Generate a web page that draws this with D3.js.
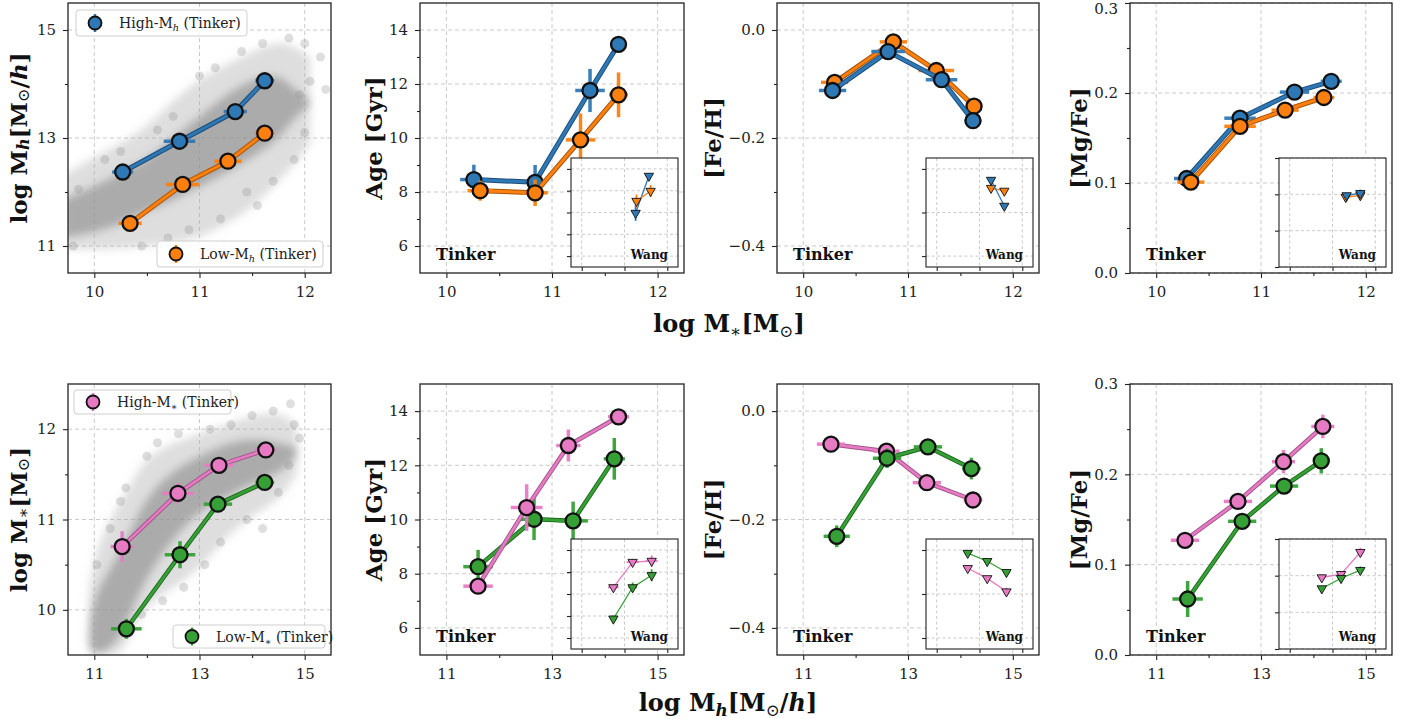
<!DOCTYPE html>
<html><head><meta charset="utf-8">
<script src="https://cdn.jsdelivr.net/npm/d3@7"></script>
<style>
body{margin:0;background:#fff;}
svg{display:block;font-family:'DejaVu Serif',serif;}
</style></head><body>
<svg id="fig" width="1422" height="719"></svg>
<script>
// ---------------- DATA ----------------
// rows: [x, y, xerr, yerr]
// Top row: binned in stellar mass (x = log M*)
const topMh_high   = [[10.27,12.37,0.10,0.06],[10.81,12.94,0.15,0.06],[11.34,13.49,0.11,0.06],[11.62,14.06,0.09,0.06]];
const topMh_low    = [[10.34,11.42,0.11,0.05],[10.84,12.14,0.16,0.05],[11.27,12.57,0.13,0.05],[11.62,13.09,0.09,0.06]];
const topAge_high  = [[10.26,8.46,0.13,0.55],[10.84,8.36,0.06,0.64],[11.36,11.76,0.14,0.80],[11.63,13.47,0.08,0.10]];
const topAge_low   = [[10.32,8.05,0.12,0.37],[10.84,7.97,0.12,0.49],[11.27,9.93,0.14,0.98],[11.63,11.60,0.09,0.83]];
const topFeH_high  = [[10.28,-0.112,0.13,0.010],[10.81,-0.040,0.16,0.006],[11.32,-0.092,0.15,0.008],[11.62,-0.168,0.08,0.008]];
const topFeH_low   = [[10.30,-0.097,0.13,0.008],[10.86,-0.022,0.13,0.006],[11.27,-0.075,0.17,0.008],[11.63,-0.141,0.08,0.008]];
const topMgFe_high = [[10.29,0.105,0.12,0.006],[10.80,0.172,0.15,0.005],[11.32,0.201,0.14,0.005],[11.67,0.213,0.10,0.005]];
const topMgFe_low  = [[10.33,0.101,0.13,0.009],[10.80,0.163,0.15,0.007],[11.23,0.181,0.13,0.005],[11.60,0.195,0.10,0.009]];
// Bottom row: binned in halo mass (x = log Mh)
const botMs_high   = [[11.53,10.70,0.22,0.17],[12.59,11.29,0.30,0.11],[13.37,11.60,0.27,0.05],[14.26,11.77,0.20,0.04]];
const botMs_low    = [[11.61,9.79,0.29,0.11],[12.63,10.61,0.29,0.15],[13.35,11.17,0.27,0.06],[14.24,11.41,0.18,0.05]];
const botAge_high  = [[11.60,7.54,0.28,0.20],[12.52,10.44,0.30,0.86],[13.31,12.73,0.23,0.59],[14.26,13.79,0.20,0.15]];
const botAge_low   = [[11.60,8.26,0.28,0.62],[12.66,10.01,0.27,0.77],[13.40,9.95,0.28,0.71],[14.18,12.24,0.20,0.77]];
const botFeH_high  = [[11.53,-0.061,0.27,0.005],[12.59,-0.074,0.25,0.006],[13.36,-0.132,0.27,0.007],[14.24,-0.164,0.18,0.015]];
const botFeH_low   = [[11.64,-0.231,0.25,0.020],[12.60,-0.087,0.27,0.018],[13.38,-0.066,0.27,0.008],[14.21,-0.106,0.18,0.020]];
const botMgFe_high = [[11.55,0.127,0.27,0.005],[12.56,0.170,0.27,0.006],[13.43,0.214,0.22,0.013],[14.18,0.253,0.22,0.013]];
const botMgFe_low  = [[11.60,0.062,0.29,0.020],[12.64,0.148,0.27,0.006],[13.44,0.187,0.27,0.005],[14.15,0.215,0.16,0.014]];
// Wang insets: [x, y, xerr, yerr]
const wTopAge_high  = [[11.26,9.95,0.05,0.72],[11.57,13.35,0.05,0.20]];
const wTopAge_low   = [[11.28,11.05,0.07,0.60],[11.61,11.97,0.05,0.55]];
const wTopFeH_high  = [[11.27,-0.051,0.04,0.010],[11.58,-0.170,0.04,0.010]];
const wTopFeH_low   = [[11.27,-0.088,0.04,0.008],[11.58,-0.101,0.04,0.006]];
const wTopMgFe_high = [[11.33,0.197,0.04,0.006],[11.65,0.203,0.04,0.010]];
const wTopMgFe_low  = [[11.31,0.192,0.04,0.008],[11.65,0.197,0.04,0.012]];
const wBotAge_high  = [[12.48,10.6,0.25,0.30],[13.38,12.9,0.28,0.30],[14.27,13.0,0.28,0.50]];
const wBotAge_low   = [[12.48,7.75,0.15,0.30],[13.38,10.6,0.20,0.45],[14.27,11.7,0.15,0.55]];
const wBotFeH_high  = [[12.45,-0.083,0.15,0.006],[13.36,-0.129,0.15,0.006],[14.26,-0.189,0.15,0.018]];
const wBotFeH_low   = [[12.45,-0.014,0.15,0.005],[13.36,-0.051,0.15,0.006],[14.26,-0.101,0.15,0.008]];
const wBotMgFe_high = [[12.50,0.195,0.15,0.005],[13.40,0.204,0.15,0.006],[14.30,0.264,0.15,0.012]];
const wBotMgFe_low  = [[12.50,0.165,0.15,0.004],[13.40,0.193,0.15,0.005],[14.30,0.215,0.15,0.010]];
// Background galaxy cloud envelopes: [x, outerLo, coreLo, coreHi, outerHi]
const topCloud = [[9.70,10.95,11.15,11.85,12.3],[10.0,10.95,11.25,12.1,12.65],[10.25,10.95,11.4,12.35,12.9],
  [10.5,11.0,11.65,12.6,13.2],[10.75,11.05,11.85,13.0,13.7],[11.0,11.15,12.1,13.4,14.1],[11.25,11.4,12.35,13.8,14.35],
  [11.5,11.7,12.65,14.1,14.6],[11.75,12.2,12.95,14.2,14.8],[11.9,12.5,13.4,13.9,14.7],[12.05,12.9,13.6,13.7,14.5]];
const topDots = [[12.15,14.5],[12.05,14.05],[12.0,14.75],[11.85,14.85],[11.4,14.6],[11.6,14.75],[9.85,12.05],[10.1,12.6],
  [10.25,12.75],[10.6,13.15],[10.75,13.4],[11.0,14.15],[11.15,14.3],[11.45,12.0],[11.55,11.75],[11.7,12.2],[11.9,12.6],
  [12.0,13.1],[10.9,11.3],[10.7,11.15],[10.45,11.0],[11.95,13.8],[11.2,11.5],[12.2,13.9],[9.8,11.0]];
const botCloud = [[10.9,9.5,9.6,9.8,10.2],[11.0,9.5,9.5,10.15,10.6],[11.25,9.5,9.55,10.4,10.95],[11.5,9.5,9.7,10.65,11.2],
  [11.75,9.8,10.05,10.95,11.45],[12.0,10.05,10.37,11.25,11.7],[12.5,10.25,10.8,11.55,11.85],[13.0,10.45,11.1,11.7,11.95],
  [13.5,10.8,11.25,11.84,12.05],[14.0,11.05,11.4,11.9,12.15],[14.5,11.2,11.5,11.85,12.2],[14.85,11.5,11.7,11.8,12.05]];
const botDots = [[11.05,10.5],[11.3,10.9],[11.5,11.2],[11.6,11.35],[12.0,11.7],[12.2,11.85],[12.6,11.95],[13.2,12.0],
  [13.6,12.05],[14.0,12.15],[14.4,12.2],[14.73,12.28],[14.8,12.05],[14.9,11.9],[14.7,11.6],[14.5,11.3],[13.9,11.0],
  [13.4,10.75],[13.1,10.5],[12.7,10.25],[12.3,10.1],[11.9,9.95],[14.2,10.9]];
// Axis ticks
const xTicksTop = [10, 11, 12], xMinorTop = [10.5, 11.5];
const xTicksBot = [11, 13, 15], xMinorBot = [12, 14];
const yTicksMh = [11, 13, 15], yMinorMh = [12, 14];
const yTicksMs = [10, 11, 12], yMinorMs = [10.5, 11.5];
const yTicksAge = [6, 8, 10, 12, 14], yMinorAge = [7, 9, 11, 13];
const yTicksFeH = [-0.4, -0.2, 0.0], yMinorFeH = [-0.3, -0.1];
const yTicksMgFe = [0.0, 0.1, 0.2, 0.3], yMinorMgFe = [0.05, 0.15, 0.25];

// ---------------- STYLE / LAYOUT ----------------
const COLORS = {blue:'#2f78b6', orange:'#fb800f', pink:'#e67bc4', green:'#36a036'};
const DARK   = {blue:'#1d4f7a', orange:'#a9550a', pink:'#a1558a', green:'#1f6b1f'};
const cols = [[68,331],[420,684],[777,1039],[1130,1392]];
const rows = [[3,273],[384,655]];
const svg = d3.select('#fig');
const defs = svg.append('defs');
defs.append('filter').attr('id','blur').attr('x','-20%').attr('y','-20%').attr('width','140%').attr('height','140%')
  .append('feGaussianBlur').attr('stdDeviation',4);

function rich(sel, parts, size) {
  let cur = 0;
  parts.forEach(p => {
    const s = p.sub ? size*0.22 : 0;
    const ts = sel.append('tspan').text(p.t);
    if (s - cur !== 0) ts.attr('dy', s - cur);
    cur = s;
    if (p.sub) ts.attr('font-size', size*0.7);
    if (p.it) ts.attr('font-style','italic');
    if (p.nb) ts.attr('font-weight','normal');
  });
}
const mhLabel = [{t:'log M'},{t:'h',sub:1,it:1},{t:'[M'},{t:'⊙',sub:1,nb:1},{t:'/'},{t:'h',it:1},{t:']'}];
const msLabel = [{t:'log M'},{t:'∗',sub:1,nb:1},{t:'[M'},{t:'⊙',sub:1,nb:1},{t:']'}];
const fmtInt = d3.format('d'), fmt1 = d => d3.format('.1f')(d);

const panels = [
 {r:0,c:0,xd:[9.75,12.25],yd:[10.5,15.5],xt:xTicksTop,xm:xMinorTop,yt:yTicksMh,ym:yMinorMh,yf:fmtInt,xf:fmtInt,
  s:[[topMh_high,'blue'],[topMh_low,'orange']],cloud:topCloud,dots:topDots,ylab:mhLabel,lw:1},
 {r:0,c:1,xd:[9.75,12.25],yd:[5,15],xt:xTicksTop,xm:xMinorTop,yt:yTicksAge,ym:yMinorAge,yf:fmtInt,xf:fmtInt,
  s:[[topAge_high,'blue'],[topAge_low,'orange']],w:[[wTopAge_high,'blue'],[wTopAge_low,'orange']],ylab:[{t:'Age [Gyr]'}]},
 {r:0,c:2,xd:[9.75,12.25],yd:[-0.45,0.05],xt:xTicksTop,xm:xMinorTop,yt:yTicksFeH,ym:yMinorFeH,yf:fmt1,xf:fmtInt,
  s:[[topFeH_low,'orange'],[topFeH_high,'blue']],w:[[wTopFeH_low,'orange'],[wTopFeH_high,'blue']],ylab:[{t:'[Fe/H]'}]},
 {r:0,c:3,xd:[9.75,12.25],yd:[0,0.3],xt:xTicksTop,xm:xMinorTop,yt:yTicksMgFe,ym:yMinorMgFe,yf:fmt1,xf:fmtInt,
  s:[[topMgFe_high,'blue'],[topMgFe_low,'orange']],w:[[wTopMgFe_low,'orange'],[wTopMgFe_high,'blue']],ylab:[{t:'[Mg/Fe]'}]},
 {r:1,c:0,xd:[10.5,15.5],yd:[9.5,12.5],xt:xTicksBot,xm:xMinorBot,yt:yTicksMs,ym:yMinorMs,yf:fmtInt,xf:fmtInt,
  s:[[botMs_high,'pink'],[botMs_low,'green']],cloud:botCloud,dots:botDots,ylab:msLabel,lw:1},
 {r:1,c:1,xd:[10.5,15.5],yd:[5,15],xt:xTicksBot,xm:xMinorBot,yt:yTicksAge,ym:yMinorAge,yf:fmtInt,xf:fmtInt,
  s:[[botAge_low,'green'],[botAge_high,'pink']],w:[[wBotAge_high,'pink'],[wBotAge_low,'green']],ylab:[{t:'Age [Gyr]'}]},
 {r:1,c:2,xd:[10.5,15.5],yd:[-0.45,0.05],xt:xTicksBot,xm:xMinorBot,yt:yTicksFeH,ym:yMinorFeH,yf:fmt1,xf:fmtInt,
  s:[[botFeH_high,'pink'],[botFeH_low,'green']],w:[[wBotFeH_high,'pink'],[wBotFeH_low,'green']],ylab:[{t:'[Fe/H]'}]},
 {r:1,c:3,xd:[10.5,15.5],yd:[0,0.3],xt:xTicksBot,xm:xMinorBot,yt:yTicksMgFe,ym:yMinorMgFe,yf:fmt1,xf:fmtInt,
  s:[[botMgFe_high,'pink'],[botMgFe_low,'green']],w:[[wBotMgFe_high,'pink'],[wBotMgFe_low,'green']],ylab:[{t:'[Mg/Fe]'}]}
];
const ylabX = [18, 373, 712, 1078];

function styleAxis(a, size) {
  a.select('.domain').remove();
  a.attr('font-family','DejaVu Serif').attr('font-size', size||15);
  a.selectAll('line').attr('stroke','#222').attr('stroke-width',1.1);
  a.selectAll('text').attr('fill','#222');
  return a;
}
function gridLines(g, x, y, xt, yt, l, r, t, b, dash) {
  const gg = g.append('g');
  gg.selectAll(null).data(xt).enter().append('line').attr('x1',d=>x(d)).attr('x2',d=>x(d)).attr('y1',t).attr('y2',b);
  gg.selectAll(null).data(yt).enter().append('line').attr('y1',d=>y(d)).attr('y2',d=>y(d)).attr('x1',l).attr('x2',r);
  gg.selectAll('line').attr('stroke','#c4c4c4').attr('stroke-width',0.9).attr('stroke-dasharray',dash||'4,3');
}
function drawSeries(g, data, key, x, y, big) {
  const col = COLORS[key], dk = DARK[key];
  const line = d3.line().x(d=>x(d[0])).y(d=>y(d[1]));
  g.append('path').attr('d',line(data)).attr('fill','none').attr('stroke',dk).attr('stroke-width',big?5:4.5).attr('stroke-linejoin','round');
  g.append('path').attr('d',line(data)).attr('fill','none').attr('stroke',col).attr('stroke-width',big?3:2.6).attr('stroke-linejoin','round');
  const eb = g.append('g').attr('stroke',col).attr('stroke-width',3.5).attr('stroke-opacity',0.95);
  eb.selectAll(null).data(data).enter().append('line')
    .attr('x1',d=>x(d[0]-d[2])).attr('x2',d=>x(d[0]+d[2])).attr('y1',d=>y(d[1])).attr('y2',d=>y(d[1]));
  eb.selectAll(null).data(data).enter().append('line')
    .attr('x1',d=>x(d[0])).attr('x2',d=>x(d[0])).attr('y1',d=>y(d[1]-d[3])).attr('y2',d=>y(d[1]+d[3]));
  g.selectAll(null).data(data).enter().append('circle')
    .attr('cx',d=>x(d[0])).attr('cy',d=>y(d[1])).attr('r',7.5)
    .attr('fill',col).attr('stroke','#111').attr('stroke-width',2.3);
}
function drawWang(g, data, key, x, y) {
  const col = COLORS[key];
  const line = d3.line().x(d=>x(d[0])).y(d=>y(d[1]));
  g.append('path').attr('d',line(data)).attr('fill','none').attr('stroke',col).attr('stroke-width',1.3);
  const eb = g.append('g').attr('stroke',col).attr('stroke-width',1.8);
  eb.selectAll(null).data(data).enter().append('line')
    .attr('x1',d=>x(d[0]-d[2])).attr('x2',d=>x(d[0]+d[2])).attr('y1',d=>y(d[1])).attr('y2',d=>y(d[1]));
  eb.selectAll(null).data(data).enter().append('line')
    .attr('x1',d=>x(d[0])).attr('x2',d=>x(d[0])).attr('y1',d=>y(d[1]-d[3])).attr('y2',d=>y(d[1]+d[3]));
  const tri = d3.symbol().type(d3.symbolTriangle).size(38);
  g.selectAll(null).data(data).enter().append('path').attr('d',tri)
    .attr('transform',d=>`translate(${x(d[0])},${y(d[1])}) rotate(180)`)
    .attr('fill',col).attr('stroke','#111').attr('stroke-width',0.9);
}
function legendBox(g, bx, by, bw, bh, key, parts) {
  g.append('rect').attr('x',bx).attr('y',by).attr('width',bw).attr('height',bh).attr('rx',3)
    .attr('fill','#fff').attr('fill-opacity',0.85).attr('stroke','#cfcfcf').attr('stroke-width',1);
  const mx = bx+19, my = by+bh/2;
  g.append('line').attr('x1',mx).attr('x2',mx).attr('y1',my-9).attr('y2',my+9).attr('stroke',COLORS[key]).attr('stroke-width',2.5);
  g.append('circle').attr('cx',mx).attr('cy',my).attr('r',6.5).attr('fill',COLORS[key]).attr('stroke','#111').attr('stroke-width',1.8);
  const t = g.append('text').attr('x',bx+43).attr('y',my+5).attr('font-size',14).attr('fill','#222');
  rich(t, parts, 14);
}

panels.forEach((p, i) => {
  const [l, r] = cols[p.c], [t, b] = rows[p.r];
  const x = d3.scaleLinear().domain(p.xd).range([l, r]);
  const y = d3.scaleLinear().domain(p.yd).range([b, t]);
  const g = svg.append('g');
  const cid = 'clip'+i;
  defs.append('clipPath').attr('id',cid).append('rect').attr('x',l).attr('y',t).attr('width',r-l).attr('height',b-t);
  gridLines(g, x, y, p.xt, p.yt, l, r, t, b);
  if (p.cloud) {
    const cg = g.append('g').attr('clip-path',`url(#${cid})`);
    const cb = cg.append('g').attr('filter','url(#blur)');
    cb.append('path').attr('d', d3.area().curve(d3.curveBasis).x(d=>x(d[0])).y0(d=>y(d[1])).y1(d=>y(d[4]))(p.cloud))
      .attr('fill','#a8a8a8').attr('fill-opacity',0.38);
    cb.append('path').attr('d', d3.area().curve(d3.curveBasis).x(d=>x(d[0])).y0(d=>y(d[2])).y1(d=>y(d[3]))(p.cloud))
      .attr('fill','#8a8a8a').attr('fill-opacity',0.6);
    cg.selectAll(null).data(p.dots).enter().append('circle').attr('cx',d=>x(d[0])).attr('cy',d=>y(d[1])).attr('r',4.5)
      .attr('fill','#8c8c8c').attr('fill-opacity',0.28);
  }
  // axes
  styleAxis(g.append('g').attr('transform',`translate(0,${b})`)
    .call(d3.axisBottom(x).tickValues(p.xt).tickSize(5).tickPadding(8).tickFormat(p.xf)));
  styleAxis(g.append('g').attr('transform',`translate(0,${b})`)
    .call(d3.axisBottom(x).tickValues(p.xm).tickSize(3).tickFormat('')));
  const ya = styleAxis(g.append('g').attr('transform',`translate(${l},0)`)
    .call(d3.axisLeft(y).tickValues(p.yt).tickSize(5).tickPadding(7).tickFormat(p.yf)));
  // keep a label sitting on the very top edge inside the picture
  ya.selectAll('.tick text').filter(d => y(d) < 9).attr('y', 9 - y(d3.max(p.yt)));
  styleAxis(g.append('g').attr('transform',`translate(${l},0)`)
    .call(d3.axisLeft(y).tickValues(p.ym).tickSize(3).tickFormat('')));
  // series
  const sg = g.append('g');
  p.s.forEach(([data, key]) => drawSeries(sg, data, key, x, y, p.r===0));
  // inset
  if (p.w) {
    const ix0 = r-113, ix1 = r-6, iy0 = t+155, iy1 = b-6;
    const ig = g.append('g');
    ig.append('rect').attr('x',ix0).attr('y',iy0).attr('width',ix1-ix0).attr('height',iy1-iy0).attr('fill','#fff');
    const xi = d3.scaleLinear().domain(p.xd).range([ix0, ix1]);
    const yi = d3.scaleLinear().domain(p.yd).range([iy1, iy0]);
    gridLines(ig, xi, yi, p.xt, p.yt, ix0, ix1, iy0, iy1, '3,2.5');
    styleAxis(ig.append('g').attr('transform',`translate(0,${iy1})`).call(d3.axisBottom(xi).tickValues(p.xt).tickSize(4).tickFormat('')));
    styleAxis(ig.append('g').attr('transform',`translate(${ix0},0)`).call(d3.axisLeft(yi).tickValues(p.yt).tickSize(4).tickFormat('')));
    p.w.forEach(([data, key]) => drawWang(ig, data, key, xi, yi));
    ig.append('rect').attr('x',ix0).attr('y',iy0).attr('width',ix1-ix0).attr('height',iy1-iy0)
      .attr('fill','none').attr('stroke','#222').attr('stroke-width',1.1);
    ig.append('text').attr('x',ix1-10).attr('y',iy1-8).attr('text-anchor','end').attr('font-weight','bold')
      .attr('font-size',12).attr('fill','#111').text('Wang');
    g.append('text').attr('x',l+16).attr('y',b-13).attr('font-weight','bold').attr('font-size',16)
      .attr('fill','#111').text('Tinker');
  }
  // spines
  g.append('rect').attr('x',l).attr('y',t).attr('width',r-l).attr('height',b-t)
    .attr('fill','none').attr('stroke','#222').attr('stroke-width',1.3);
  // y label
  const yl = svg.append('text').attr('transform',`translate(${ylabX[p.c]},${(t+b)/2}) rotate(-90)`)
    .attr('text-anchor','middle').attr('dominant-baseline','central').attr('font-weight','bold')
    .attr('font-size',23).attr('fill','#111');
  rich(yl, p.ylab, 23);
});

// legends
const lg = svg.append('g');
legendBox(lg, 76, 10, 171, 26, 'blue', [{t:'High-M'},{t:'h',sub:1,it:1},{t:' (Tinker)'}]);
legendBox(lg, 157, 241, 166, 26, 'orange', [{t:'Low-M'},{t:'h',sub:1,it:1},{t:' (Tinker)'}]);
legendBox(lg, 74, 390, 157, 24, 'pink', [{t:'High-M'},{t:'∗',sub:1},{t:' (Tinker)'}]);
legendBox(lg, 173, 625, 152, 23, 'green', [{t:'Low-M'},{t:'∗',sub:1},{t:' (Tinker)'}]);

// shared x labels
const xl1 = svg.append('text').attr('x',729).attr('y',332).attr('text-anchor','middle')
  .attr('font-weight','bold').attr('font-size',24).attr('fill','#111');
rich(xl1, msLabel, 24);
const xl2 = svg.append('text').attr('x',728).attr('y',711).attr('text-anchor','middle')
  .attr('font-weight','bold').attr('font-size',24).attr('fill','#111');
rich(xl2, mhLabel, 24);
</script></body></html>
